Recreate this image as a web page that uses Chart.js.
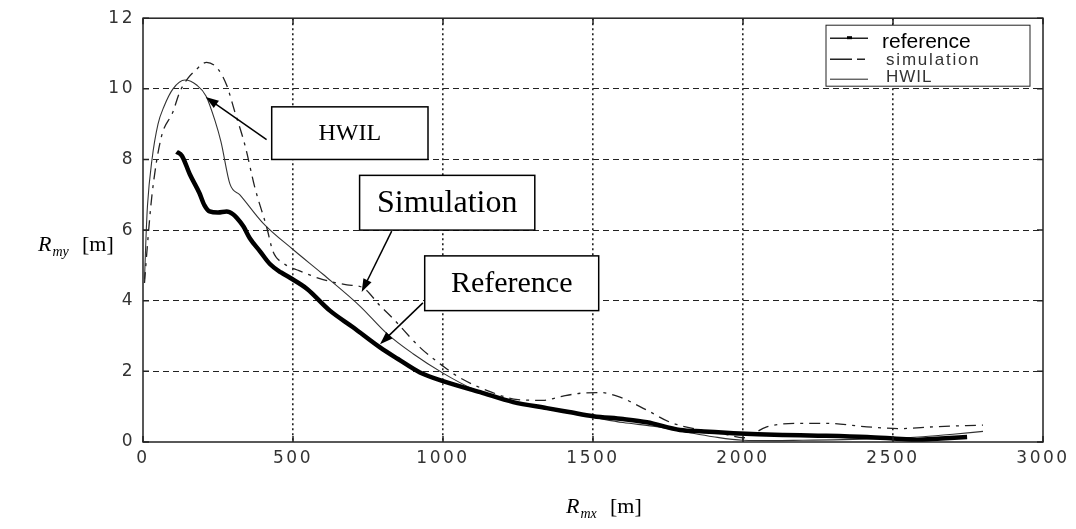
<!DOCTYPE html>
<html>
<head>
<meta charset="utf-8">
<script src="https://cdn.jsdelivr.net/npm/chart.js@4.4.1/dist/chart.umd.min.js"></script>
<style>
    html, body { margin: 0; padding: 0; background: #fff; }
    #wrap { width: 1076px; height: 529px; }
</style>
</head>
<body>
<div id="wrap"><canvas id="chart" width="1076" height="529"></canvas></div>
<script>
// Axis ticks
const xTicks = [0, 500, 1000, 1500, 2000, 2500, 3000];
const yTicks = [0, 2, 4, 6, 8, 10, 12];

// Series (Rmx [m] -> Rmy [m])
const seriesLabels = ['reference', 'simulation', 'HWIL'];

const refX = [112, 130, 156, 188, 205, 222, 250, 279, 300, 313, 335, 356, 390, 423, 460, 490, 546, 623, 700, 790, 850, 923, 1013, 1124, 1234, 1346, 1420, 1501, 1600, 1680, 1790, 1870, 1968, 2050, 2135, 2250, 2413, 2500, 2580, 2660, 2747];
const refY = [8.22, 8.1, 7.58, 7.05, 6.7, 6.53, 6.5, 6.53, 6.45, 6.34, 6.1, 5.77, 5.4, 5.04, 4.8, 4.65, 4.34, 3.72, 3.25, 2.68, 2.35, 1.97, 1.69, 1.41, 1.13, 0.96, 0.85, 0.73, 0.65, 0.56, 0.34, 0.3, 0.25, 0.22, 0.2, 0.18, 0.14, 0.1, 0.06, 0.1, 0.14];

const simX = [5, 15, 30, 60, 100, 122, 150, 172, 212, 250, 279, 306, 340, 373, 413, 433, 470, 520, 600, 680, 733, 790, 833, 923, 997, 1050, 1150, 1250, 1334, 1400, 1457, 1524, 1590, 1680, 1757, 1857, 1950, 2000, 2079, 2190, 2280, 2413, 2523, 2635, 2800];
const simY = [4.5, 5.6, 7.0, 8.6, 9.35, 9.9, 10.3, 10.5, 10.75, 10.56, 10.1, 9.35, 8.4, 7.2, 6.06, 5.4, 5.05, 4.85, 4.6, 4.45, 4.37, 3.86, 3.5, 2.68, 2.17, 1.85, 1.45, 1.2, 1.18, 1.3, 1.38, 1.4, 1.27, 0.9, 0.56, 0.34, 0.2, 0.12, 0.43, 0.53, 0.53, 0.43, 0.38, 0.43, 0.48];

const hwilX = [5, 10, 15, 30, 50, 70, 100, 140, 180, 210, 240, 260, 290, 323, 400, 500, 600, 723, 813, 900, 1000, 1100, 1200, 1300, 1400, 1500, 1600, 1700, 1800, 1900, 2000, 2100, 2200, 2300, 2400, 2500, 2600, 2700, 2800];
const hwilY = [4.6, 5.8, 6.7, 8.0, 9.0, 9.5, 10.0, 10.25, 10.1, 9.8, 9.1, 8.5, 7.3, 7.0, 6.2, 5.45, 4.75, 3.85, 3.07, 2.5, 1.95, 1.5, 1.2, 1.0, 0.85, 0.7, 0.55, 0.45, 0.3, 0.15, 0.05, 0.04, 0.05, 0.06, 0.08, 0.1, 0.15, 0.22, 0.3];

// Callout boxes, in data units: box = [x0, x1, yTop, yBottom]
const callouts = [
    { text: 'HWIL', size: 24, box: [429, 950, 9.49, 8.0], from: [412, 8.56], to: [209, 9.77] },
    { text: 'Simulation', size: 32, box: [722, 1306, 7.55, 6.0], from: [829, 5.97], to: [729, 4.25] },
    { text: 'Reference', size: 30, box: [939, 1519, 5.27, 3.72], from: [933, 3.94], to: [790, 2.77] }
];

const toPoints = (xs, ys) => xs.map((x, i) => ({ x: x, y: ys[i] }));
const tickFont = { family: 'DejaVu Sans', size: 17 };
const serif = '"Liberation Serif", "Times New Roman", serif';

const edgeColor = (lo, hi, color) => (c) =>
    (c.tick && (c.tick.value === lo || c.tick.value === hi)) ? 'rgba(0,0,0,0)' : color;

// Wider tick digits, like the original bitmap font
const spacing = {
    id: 'spacing',
    beforeDraw(chart) { chart.ctx.letterSpacing = '2.5px'; },
    beforeDatasetsDraw(chart) { chart.ctx.letterSpacing = '0px'; }
};

// Solid box round the plot with small inward ticks
const frame = {
    id: 'frame',
    afterDraw(chart) {
        const { ctx, chartArea: a, scales } = chart;
        ctx.save();
        ctx.strokeStyle = '#222';
        ctx.lineWidth = 1.5;
        ctx.setLineDash([]);
        ctx.strokeRect(a.left, a.top, a.right - a.left, a.bottom - a.top);
        ctx.beginPath();
        xTicks.forEach(v => {
            const px = scales.x.getPixelForValue(v);
            ctx.moveTo(px, a.bottom); ctx.lineTo(px, a.bottom - 6);
            ctx.moveTo(px, a.top); ctx.lineTo(px, a.top + 6);
        });
        yTicks.forEach(v => {
            const py = scales.y.getPixelForValue(v);
            ctx.moveTo(a.left, py); ctx.lineTo(a.left + 6, py);
            ctx.moveTo(a.right, py); ctx.lineTo(a.right - 6, py);
        });
        ctx.stroke();
        ctx.restore();
    }
};

// Legend box in the top right corner
const legendBox = {
    id: 'legendBox',
    afterDraw(chart) {
        const { ctx, chartArea: a } = chart;
        const x0 = a.right - 217, x1 = a.right - 13, y0 = a.top + 7, y1 = a.top + 68;
        ctx.save();
        ctx.fillStyle = '#fff';
        ctx.fillRect(x0, y0, x1 - x0, y1 - y0);
        ctx.strokeStyle = '#222';
        ctx.lineWidth = 1;
        ctx.strokeRect(x0, y0, x1 - x0, y1 - y0);

        const lx = x0 + 4, rows = [a.top + 20, a.top + 41, a.top + 61];
        // reference
        ctx.lineWidth = 1.5;
        ctx.beginPath(); ctx.moveTo(lx, rows[0]); ctx.lineTo(lx + 38, rows[0]); ctx.stroke();
        ctx.fillStyle = '#000';
        ctx.fillRect(lx + 17, rows[0] - 2, 5, 3);
        // simulation
        ctx.beginPath();
        ctx.moveTo(lx, rows[1]); ctx.lineTo(lx + 22, rows[1]);
        ctx.moveTo(lx + 27, rows[1]); ctx.lineTo(lx + 35, rows[1]);
        ctx.stroke();
        // HWIL
        ctx.lineWidth = 1;
        ctx.beginPath(); ctx.moveTo(lx, rows[2]); ctx.lineTo(lx + 38, rows[2]); ctx.stroke();

        ctx.textBaseline = 'middle';
        ctx.textAlign = 'left';
        ctx.fillStyle = '#000';
        ctx.font = '21px "Liberation Sans", Arial, sans-serif';
        ctx.fillText(seriesLabels[0], x0 + 56, rows[0] + 4);
        ctx.fillStyle = '#333';
        ctx.font = '17px "Liberation Sans", Arial, sans-serif';
        ctx.letterSpacing = '1.8px';
        ctx.fillText(seriesLabels[1], x0 + 60, rows[1] + 1);
        ctx.letterSpacing = '1px';
        ctx.fillText(seriesLabels[2], x0 + 60, rows[2] - 2);
        ctx.restore();
    }
};

// Boxed callouts with arrows
const calloutPlugin = {
    id: 'callouts',
    afterDraw(chart) {
        const { ctx, scales: { x, y } } = chart;
        ctx.save();
        ctx.setLineDash([]);
        callouts.forEach(c => {
            const bx0 = x.getPixelForValue(c.box[0]), bx1 = x.getPixelForValue(c.box[1]);
            const by0 = y.getPixelForValue(c.box[2]), by1 = y.getPixelForValue(c.box[3]);
            ctx.fillStyle = '#fff';
            ctx.fillRect(bx0, by0, bx1 - bx0, by1 - by0);
            ctx.strokeStyle = '#000';
            ctx.lineWidth = 1.5;
            ctx.strokeRect(bx0, by0, bx1 - bx0, by1 - by0);
            ctx.fillStyle = '#000';
            ctx.font = c.size + 'px ' + serif;
            ctx.textAlign = 'center';
            ctx.textBaseline = 'middle';
            ctx.fillText(c.text, (bx0 + bx1) / 2, (by0 + by1) / 2 + 1);

            const fx = x.getPixelForValue(c.from[0]), fy = y.getPixelForValue(c.from[1]);
            const tx = x.getPixelForValue(c.to[0]), ty = y.getPixelForValue(c.to[1]);
            const ang = Math.atan2(ty - fy, tx - fx);
            ctx.beginPath();
            ctx.moveTo(fx, fy);
            ctx.lineTo(tx - 8 * Math.cos(ang), ty - 8 * Math.sin(ang));
            ctx.stroke();
            ctx.beginPath();
            ctx.moveTo(tx, ty);
            ctx.lineTo(tx - 13 * Math.cos(ang) + 4.5 * Math.sin(ang), ty - 13 * Math.sin(ang) - 4.5 * Math.cos(ang));
            ctx.lineTo(tx - 13 * Math.cos(ang) - 4.5 * Math.sin(ang), ty - 13 * Math.sin(ang) + 4.5 * Math.cos(ang));
            ctx.closePath();
            ctx.fill();
        });
        ctx.restore();
    }
};

// Axis titles with italic subscripts
function drawTitle(ctx, x, y, sub) {
    ctx.font = 'italic 22px ' + serif;
    ctx.fillText('R', x, y);
    const w = ctx.measureText('R').width;
    ctx.font = 'italic 14px ' + serif;
    ctx.fillText(sub, x + w + 1, y + 5);
    ctx.font = '22px ' + serif;
    ctx.fillText('[m]', x + 44, y);
}

const axisTitles = {
    id: 'axisTitles',
    afterDraw(chart) {
        const ctx = chart.ctx;
        ctx.save();
        ctx.fillStyle = '#000';
        ctx.textAlign = 'left';
        ctx.textBaseline = 'alphabetic';
        drawTitle(ctx, 38, 251, 'my');
        drawTitle(ctx, 566, 513, 'mx');
        ctx.restore();
    }
};

new Chart(document.getElementById('chart'), {
    type: 'line',
    data: {
        datasets: [
            {
                label: seriesLabels[0],
                data: toPoints(refX, refY),
                borderColor: '#000',
                borderWidth: 4.5,
                pointRadius: 0,
                cubicInterpolationMode: 'monotone'
            },
            {
                label: seriesLabels[1],
                data: toPoints(simX, simY),
                borderColor: '#222',
                borderWidth: 1.3,
                borderDash: [11, 6, 3, 6],
                pointRadius: 0,
                cubicInterpolationMode: 'monotone'
            },
            {
                label: seriesLabels[2],
                data: toPoints(hwilX, hwilY),
                borderColor: '#333',
                borderWidth: 1.1,
                pointRadius: 0,
                cubicInterpolationMode: 'monotone'
            }
        ]
    },
    options: {
        responsive: false,
        animation: false,
        layout: { padding: { top: 16, right: 33, left: 0, bottom: 0 } },
        plugins: {
            legend: { display: false },
            tooltip: { enabled: false }
        },
        scales: {
            x: {
                type: 'linear',
                min: 0,
                max: 3000,
                afterBuildTicks: (scale) => { scale.ticks = xTicks.map(v => ({ value: v })); },
                afterFit: (scale) => { scale.height = 87; },
                grid: { color: edgeColor(0, 3000, '#222'), lineWidth: 1.6, drawTicks: false },
                border: { display: false, dash: [2, 3] },
                ticks: { font: tickFont, color: '#333', padding: 6, maxRotation: 0, callback: (v) => String(v) }
            },
            y: {
                min: 0,
                max: 12,
                afterBuildTicks: (scale) => { scale.ticks = yTicks.map(v => ({ value: v })); },
                afterFit: (scale) => { scale.width = 143; },
                grid: { color: edgeColor(0, 12, '#222'), lineWidth: 1, drawTicks: false },
                border: { display: false, dash: [6, 4] },
                ticks: { font: tickFont, color: '#333', padding: 8, callback: (v) => String(v) }
            }
        }
    },
    plugins: [spacing, frame, legendBox, calloutPlugin, axisTitles]
});
</script>
</body>
</html>
